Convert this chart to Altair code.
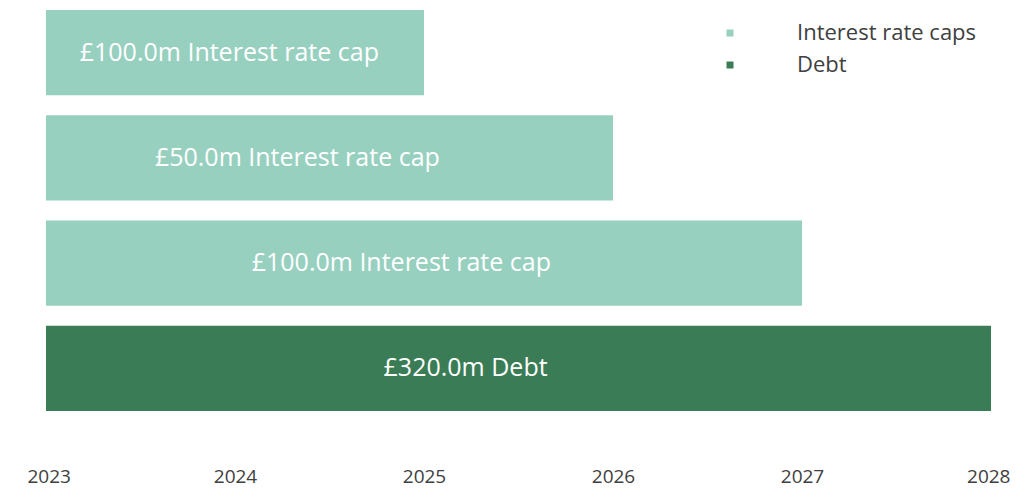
import altair as alt
import pandas as pd

rows = ["cap1", "cap2", "cap3", "debt"]
labels = ["£100.0m Interest rate cap", "£50.0m Interest rate cap", "£100.0m Interest rate cap", "£320.0m Debt"]
kinds = ["Interest rate caps", "Interest rate caps", "Interest rate caps", "Debt"]
starts = [2023, 2023, 2023, 2023]
ends = [2025, 2026, 2027, 2028]
label_x = [2023.97, 2024.33, 2024.88, 2025.22]
year_ticks = [2023, 2024, 2025, 2026, 2027, 2028]

df = pd.DataFrame({"row": rows, "label": labels, "kind": kinds, "start": starts,
                   "end": ends, "lx": label_x})

xscale = alt.Scale(domain=[2023, 2028], nice=False, zero=False)
yscale = alt.Scale(domain=rows, paddingInner=0.19, paddingOuter=0)
color = alt.Color("kind:N", scale=alt.Scale(domain=["Interest rate caps", "Debt"],
                                            range=["#98D0C0", "#3A7C56"]),
                  legend=alt.Legend(title=None, orient="none", legendX=673, legendY=12,
                                    symbolType="square", symbolSize=49, symbolStrokeWidth=0,
                                    labelFontSize=22, labelFont="Open Sans", labelColor="#404040",
                                    labelOffset=56, labelLimit=400, rowPadding=10, padding=0))

bars = alt.Chart(df).mark_bar(opacity=1).encode(
    x=alt.X("start:Q", scale=xscale,
            axis=alt.Axis(values=year_ticks, format="d", title=None, domain=False, ticks=False,
                          grid=False, labelFontSize=19, labelFont="Open Sans",
                          labelColor="#404040", labelPadding=56, labelFlush=True,
                          labelFlushOffset=19)),
    x2="end:Q",
    y=alt.Y("row:N", scale=yscale, axis=None, sort=rows),
    color=color,
)

text = alt.Chart(df).mark_text(color="white", fontSize=25, font="Open Sans").encode(
    x=alt.X("lx:Q", scale=xscale),
    y=alt.Y("row:N", scale=yscale, sort=rows),
    text="label:N",
)

chart = (bars + text).properties(
    width=945, height=401,
    autosize=alt.AutoSizeParams(type="none"),
    padding={"left": 38, "top": 2, "right": 19, "bottom": 92},
).configure_view(stroke=None)

chart.save("out.html", embed_options={"renderer": "svg", "actions": False})
